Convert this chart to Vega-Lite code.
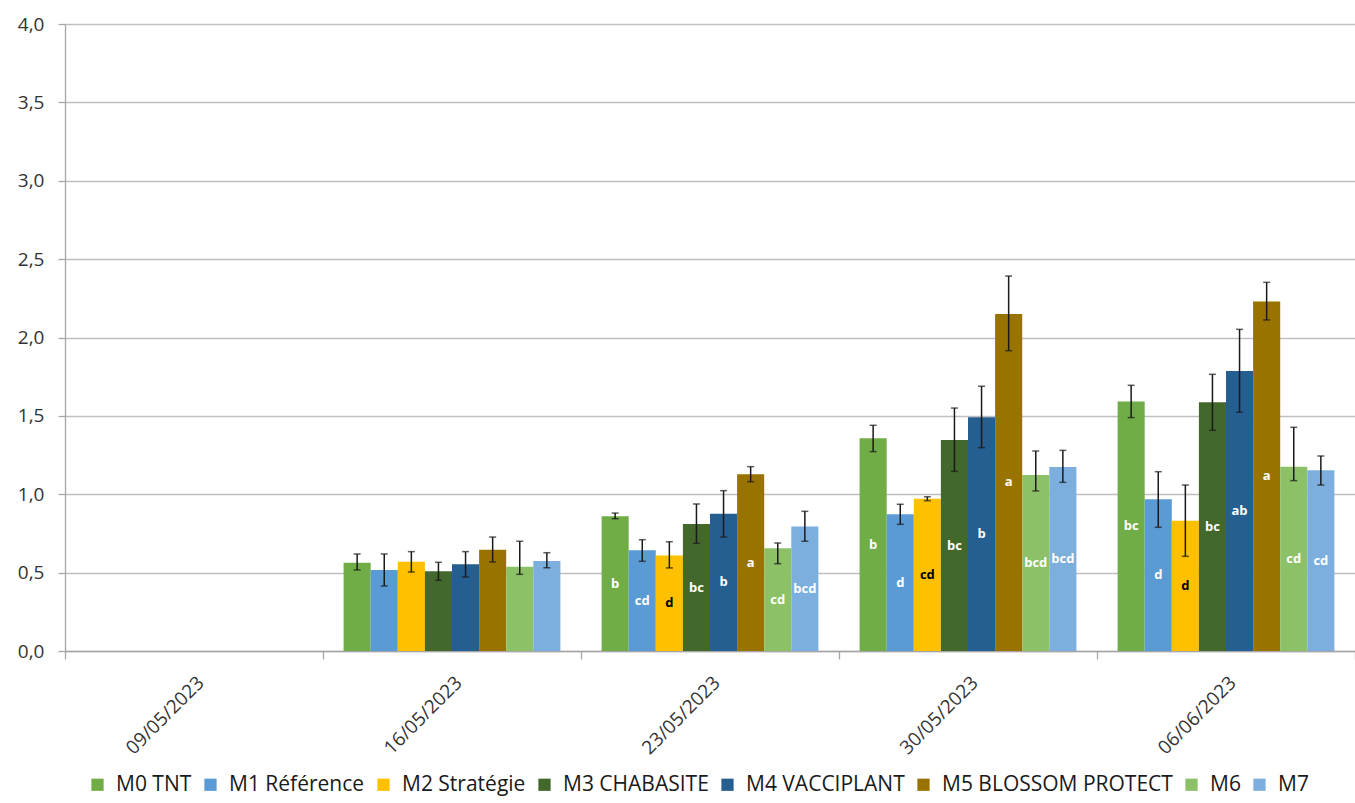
{
  "$schema": "https://vega.github.io/schema/vega-lite/v6.json",
  "width": 1290,
  "height": 627,
  "autosize": {"type": "none"},
  "padding": {"left": 65, "top": 24, "right": 0, "bottom": 152},
  "background": "white",
  "config": {
    "font": "Open Sans",
    "view": {"stroke": null},
    "axis": {"labelFont": "Open Sans", "labelColor": "#333333", "domainColor": "#A6A6A6", "tickColor": "#A6A6A6", "domainWidth": 1.3, "tickWidth": 1.3}
  },
  "data": {
    "values": [
      {"date": "16/05/2023", "trt": "M0 TNT", "value": 0.563, "lo": 0.517, "hi": 0.619, "letter": ""},
      {"date": "16/05/2023", "trt": "M1 Référence", "value": 0.517, "lo": 0.415, "hi": 0.619, "letter": ""},
      {"date": "16/05/2023", "trt": "M2 Stratégie", "value": 0.570, "lo": 0.504, "hi": 0.634, "letter": ""},
      {"date": "16/05/2023", "trt": "M3 CHABASITE", "value": 0.508, "lo": 0.451, "hi": 0.566, "letter": ""},
      {"date": "16/05/2023", "trt": "M4 VACCIPLANT", "value": 0.553, "lo": 0.472, "hi": 0.634, "letter": ""},
      {"date": "16/05/2023", "trt": "M5 BLOSSOM PROTECT", "value": 0.646, "lo": 0.568, "hi": 0.727, "letter": ""},
      {"date": "16/05/2023", "trt": "M6", "value": 0.538, "lo": 0.489, "hi": 0.700, "letter": ""},
      {"date": "16/05/2023", "trt": "M7", "value": 0.574, "lo": 0.531, "hi": 0.627, "letter": ""},
      {"date": "23/05/2023", "trt": "M0 TNT", "value": 0.859, "lo": 0.844, "hi": 0.880, "letter": "b"},
      {"date": "23/05/2023", "trt": "M1 Référence", "value": 0.642, "lo": 0.572, "hi": 0.710, "letter": "cd"},
      {"date": "23/05/2023", "trt": "M2 Stratégie", "value": 0.610, "lo": 0.530, "hi": 0.697, "letter": "d"},
      {"date": "23/05/2023", "trt": "M3 CHABASITE", "value": 0.810, "lo": 0.687, "hi": 0.938, "letter": "bc"},
      {"date": "23/05/2023", "trt": "M4 VACCIPLANT", "value": 0.876, "lo": 0.727, "hi": 1.023, "letter": "b"},
      {"date": "23/05/2023", "trt": "M5 BLOSSOM PROTECT", "value": 1.127, "lo": 1.080, "hi": 1.176, "letter": "a"},
      {"date": "23/05/2023", "trt": "M6", "value": 0.655, "lo": 0.557, "hi": 0.689, "letter": "cd"},
      {"date": "23/05/2023", "trt": "M7", "value": 0.795, "lo": 0.700, "hi": 0.891, "letter": "bcd"},
      {"date": "30/05/2023", "trt": "M0 TNT", "value": 1.357, "lo": 1.272, "hi": 1.440, "letter": "b"},
      {"date": "30/05/2023", "trt": "M1 Référence", "value": 0.872, "lo": 0.808, "hi": 0.936, "letter": "d"},
      {"date": "30/05/2023", "trt": "M2 Stratégie", "value": 0.972, "lo": 0.959, "hi": 0.984, "letter": "cd"},
      {"date": "30/05/2023", "trt": "M3 CHABASITE", "value": 1.346, "lo": 1.146, "hi": 1.550, "letter": "bc"},
      {"date": "30/05/2023", "trt": "M4 VACCIPLANT", "value": 1.491, "lo": 1.297, "hi": 1.689, "letter": "b"},
      {"date": "30/05/2023", "trt": "M5 BLOSSOM PROTECT", "value": 2.150, "lo": 1.916, "hi": 2.392, "letter": "a"},
      {"date": "30/05/2023", "trt": "M6", "value": 1.123, "lo": 1.021, "hi": 1.276, "letter": "bcd"},
      {"date": "30/05/2023", "trt": "M7", "value": 1.174, "lo": 1.076, "hi": 1.280, "letter": "bcd"},
      {"date": "06/06/2023", "trt": "M0 TNT", "value": 1.591, "lo": 1.489, "hi": 1.695, "letter": "bc"},
      {"date": "06/06/2023", "trt": "M1 Référence", "value": 0.968, "lo": 0.789, "hi": 1.144, "letter": "d"},
      {"date": "06/06/2023", "trt": "M2 Stratégie", "value": 0.831, "lo": 0.604, "hi": 1.059, "letter": "d"},
      {"date": "06/06/2023", "trt": "M3 CHABASITE", "value": 1.587, "lo": 1.408, "hi": 1.765, "letter": "bc"},
      {"date": "06/06/2023", "trt": "M4 VACCIPLANT", "value": 1.786, "lo": 1.523, "hi": 2.052, "letter": "ab"},
      {"date": "06/06/2023", "trt": "M5 BLOSSOM PROTECT", "value": 2.229, "lo": 2.112, "hi": 2.352, "letter": "a"},
      {"date": "06/06/2023", "trt": "M6", "value": 1.176, "lo": 1.087, "hi": 1.427, "letter": "cd"},
      {"date": "06/06/2023", "trt": "M7", "value": 1.153, "lo": 1.059, "hi": 1.244, "letter": "cd"}
    ]
  },
  "encoding": {
    "x": {
      "field": "date", "type": "nominal",
      "scale": {"domain": ["09/05/2023", "16/05/2023", "23/05/2023", "30/05/2023", "06/06/2023"], "paddingInner": 0, "paddingOuter": 0},
      "axis": {"title": null, "labelAngle": -45, "labelFontSize": 19, "tickBand": "extent", "tickSize": 8, "labelPadding": 14, "grid": false}
    },
    "xOffset": {
      "field": "trt", "type": "nominal",
      "scale": {"domain": ["M0 TNT", "M1 Référence", "M2 Stratégie", "M3 CHABASITE", "M4 VACCIPLANT", "M5 BLOSSOM PROTECT", "M6", "M7"], "paddingInner": 0, "paddingOuter": 0.76}
    }
  },
  "resolve": {"scale": {"y": "independent"}, "axis": {"y": "independent"}},
  "layer": [
    {
      "layer": [
        {
          "mark": {"type": "bar"},
          "encoding": {
            "y": {
              "field": "value", "type": "quantitative",
              "scale": {"domain": [0, 4], "nice": false, "zero": true},
              "axis": {"title": null, "values": [0, 0.5, 1, 1.5, 2, 2.5, 3, 3.5, 4], "labelExpr": "replace(format(datum.value, '.1f'), '.', ',')", "labelFontSize": 19, "grid": true, "gridColor": "#BFBFBF", "gridWidth": 1.3, "tickSize": 7, "labelPadding": 14}
            },
            "color": {
              "field": "trt", "type": "nominal",
              "scale": {"domain": ["M0 TNT", "M1 Référence", "M2 Stratégie", "M3 CHABASITE", "M4 VACCIPLANT", "M5 BLOSSOM PROTECT", "M6", "M7"], "range": ["#70AD47", "#5B9BD5", "#FFC000", "#43682B", "#255E91", "#997300", "#8CC168", "#7CAFDD"]},
              "legend": {"title": null, "orient": "none", "direction": "horizontal", "legendX": 22, "legendY": 750, "symbolType": "square", "symbolSize": 150, "symbolStrokeWidth": 0, "labelFontSize": 21, "labelLimit": 0, "labelFont": "Open Sans", "labelColor": "#1a1a1a", "labelOffset": 8, "columnPadding": 8, "symbolOffset": 0}
            }
          }
        },
        {
          "mark": {"type": "rule", "color": "#1a1a1a", "strokeWidth": 1.5},
          "encoding": {
            "y": {"field": "lo", "type": "quantitative"},
            "y2": {"field": "hi"}
          }
        },
        {
          "mark": {"type": "tick", "color": "#1a1a1a", "thickness": 1.5, "size": 7},
          "encoding": {"y": {"field": "lo", "type": "quantitative"}}
        },
        {
          "mark": {"type": "tick", "color": "#1a1a1a", "thickness": 1.5, "size": 7},
          "encoding": {"y": {"field": "hi", "type": "quantitative"}}
        }
      ]
    },
    {
      "mark": {"type": "text", "fontWeight": "bold", "fontSize": 13, "font": "Open Sans", "baseline": "middle"},
      "encoding": {
        "y": {"field": "value", "type": "quantitative", "scale": {"domain": [0, 8], "nice": false, "zero": true}, "axis": null},
        "text": {"field": "letter"},
        "color": {"condition": {"test": "datum.trt === 'M2 Stratégie'", "value": "#000000"}, "value": "#FFFFFF"}
      }
    }
  ]
}
